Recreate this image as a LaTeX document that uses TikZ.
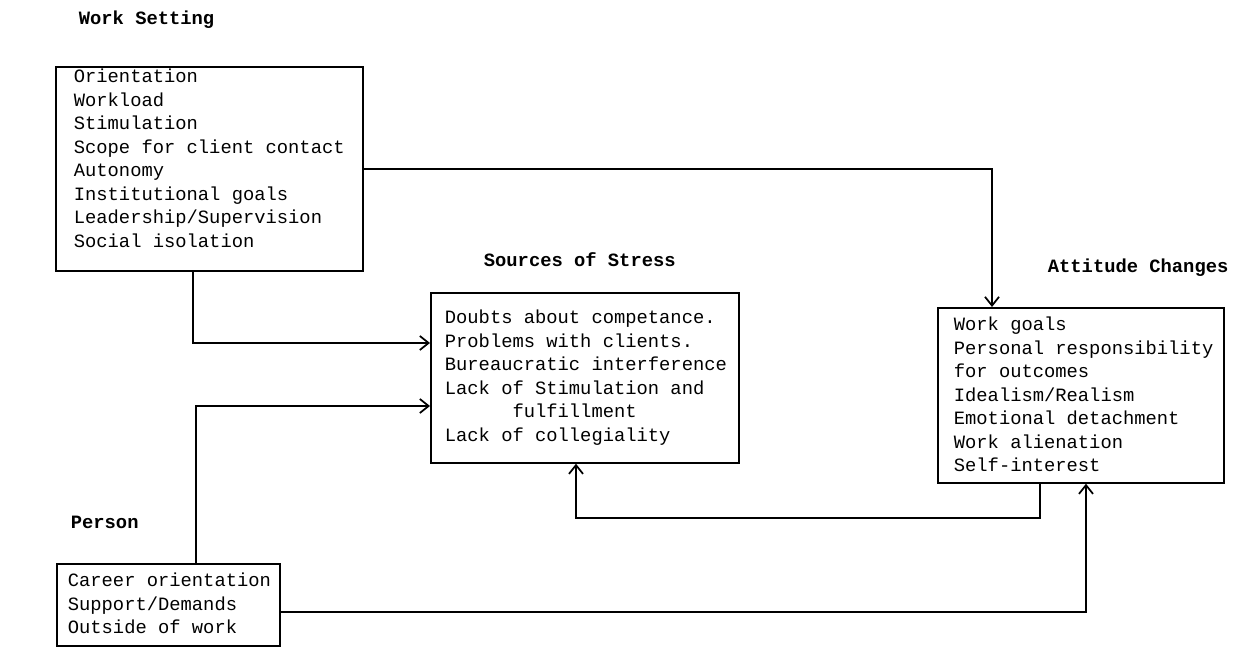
\documentclass[tikz,border=0pt]{standalone}
\usepackage{fontspec}
\setmonofont{Liberation Mono}
\usepackage{tikz}
\usetikzlibrary{arrows.meta}

\begin{document}
\begin{tikzpicture}[x=0.02cm, y=-0.02cm, line width=1pt,
    >={Straight Barb[length=5pt,width=8pt]},
    box/.style={draw, anchor=north west, inner sep=0pt},
    items/.style={anchor=north west, inner sep=0pt, align=left,
        font=\ttfamily\fontsize{10.7}{13.4}\selectfont},
    heading/.style={anchor=west, inner sep=0pt,
        font=\ttfamily\bfseries\fontsize{10.7}{13.4}\selectfont}]
    \useasboundingbox (0,0) rectangle (1244,661);

    \node[heading] (tWork) at (78,20) {Work Setting};
    \node[heading] (tStress) at (483,260) {Sources of Stress};
    \node[heading] (tAtt) at (1047,268) {Attitude Changes};
    \node[heading] (tPerson) at (70,522) {Person};

    \node[box, minimum width=6.14cm, minimum height=4.08cm] (work) at (55,66) {};
    \node[box, minimum width=6.16cm, minimum height=3.4cm] (stress) at (430,292) {};
    \node[box, minimum width=5.72cm, minimum height=3.5cm] (att) at (937,307) {};
    \node[box, minimum width=4.46cm, minimum height=1.64cm] (person) at (56,563) {};

    \node[items] (workList) at (73,68) {Orientation\\Workload\\Stimulation\\
        Scope for client contact\\Autonomy\\Institutional goals\\
        Leadership/Supervision\\Social isolation};
    \node[items] (stressList) at (444,309) {Doubts about competance.\\
        Problems with clients.\\Bureaucratic interference\\
        Lack of Stimulation and\\\hspace*{3.6em}fulfillment\\Lack of collegiality};
    \node[items] (attList) at (953,316) {Work goals\\Personal responsibility\\
        for outcomes\\Idealism/Realism\\Emotional detachment\\
        Work alienation\\Self-interest};
    \node[items] (personList) at (67,572) {Career orientation\\Support/Demands\\
        Outside of work};

    \draw[->] (work.east) -| (att.north -| 992,0);
    \draw[->] (work.south -| 193,0) |- (stress.west |- 0,343);
    \draw[->] (person.north -| 196,0) |- (stress.west |- 0,406);
    \draw[->] (att.south -| 1040,0) |- (576,518) -- (stress.south -| 576,0);
    \draw[->] (person.east |- 0,612) -| (att.south -| 1086,0);
\end{tikzpicture}
\end{document}
